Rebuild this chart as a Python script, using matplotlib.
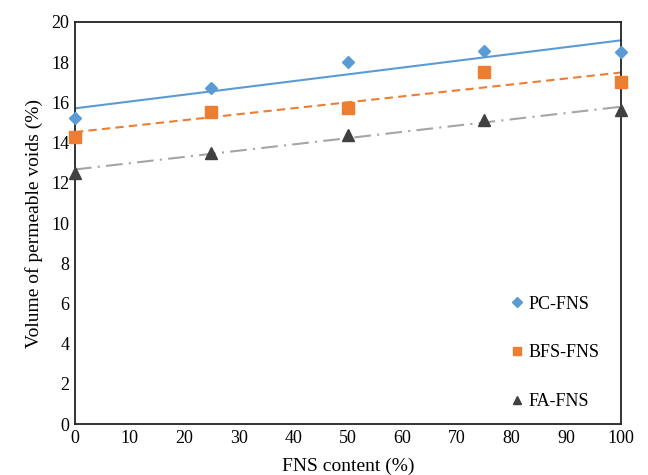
import numpy as np
import matplotlib.pyplot as plt

plt.rcParams['font.family'] = ['Liberation Serif', 'DejaVu Serif']

fns = [0, 25, 50, 75, 100]
pc_fns = [15.2, 16.7, 18.0, 18.55, 18.5]
bfs_fns = [14.3, 15.5, 15.7, 17.5, 17.0]
fa_fns = [12.5, 13.5, 14.4, 15.1, 15.6]

xticks = list(range(0, 101, 10))
yticks = list(range(0, 21, 2))

fig = plt.figure(figsize=(6.48, 4.75), dpi=100)
ax = fig.add_axes([0.1157, 0.107, 0.8423, 0.847])

x = np.array(fns)
xx = np.array([0, 100])

series = [
    ("PC-FNS", pc_fns, "D", "#5B9BD5", "#5B9BD5", "-", 6.5),
    ("BFS-FNS", bfs_fns, "s", "#ED7D31", "#ED7D31", (0, (4, 2.5)), 8),
    ("FA-FNS", fa_fns, "^", "#404040", "#A5A5A5", (0, (8, 3, 1, 3)), 8),
]

for name, vals, mk, mcol, lcol, ls, ms in series:
    k, b = np.polyfit(x, vals, 1)
    ax.plot(xx, k * xx + b, color=lcol, linestyle=ls, linewidth=1.5, zorder=2)
    ax.plot(x, vals, linestyle="none", marker=mk, color=mcol, markersize=ms,
            label=name, zorder=3, clip_on=False)

ax.set_xlim(0, 100)
ax.set_ylim(0, 20)
ax.set_xticks(xticks)
ax.set_yticks(yticks)
ax.tick_params(length=0, labelsize=13, pad=4)
for s in ax.spines.values():
    s.set_linewidth(1.3)
    s.set_color("#222222")

ax.set_xlabel("FNS content (%)", fontsize=14, labelpad=8)
ax.set_ylabel("Volume of permeable voids (%)", fontsize=14, labelpad=6)

ax.legend(loc="lower right", bbox_to_anchor=(0.99, -0.005), frameon=False,
          fontsize=13, handletextpad=0.1, labelspacing=1.75, handlelength=1.0,
          markerscale=0.8)

fig.savefig("out.png", dpi=100)
